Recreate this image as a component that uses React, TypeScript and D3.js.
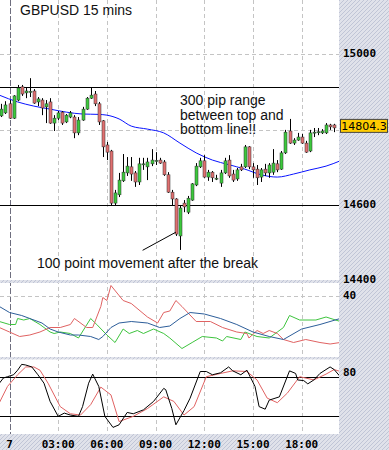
import React from "react";
import * as d3 from "d3";

// 15 min GBPUSD bars, first bar is 23:30 (index -2), bar 0 = 00:00 on the 7th
const firstBar = -2;
const opens = [
  14836, 14844, 14868, 14830, 14878, 14913, 14897, 14899, 14902, 14873,
  14878, 14860, 14873, 14817, 14830, 14846, 14820, 14833, 14833, 14791,
  14825, 14854, 14883, 14894, 14868, 14823, 14759, 14743, 14605, 14627,
  14664, 14685, 14701, 14685, 14661, 14707, 14701, 14709, 14717, 14719,
  14714, 14680, 14634, 14616, 14518, 14605, 14581, 14613, 14653, 14701,
  14717, 14674, 14687, 14670, 14658, 14685, 14719, 14682, 14669, 14701,
  14701, 14754, 14701, 14695, 14674, 14695, 14685, 14687, 14709, 14695,
  14738, 14796, 14764, 14772, 14780, 14764, 14743, 14792, 14792, 14791,
  14791, 14812, 14812,
];
const highs = [
  14868, 14875, 14878, 14891, 14918, 14918, 14910, 14936, 14907, 14886,
  14883, 14878, 14883, 14838, 14849, 14849, 14841, 14849, 14838, 14833,
  14860, 14886, 14910, 14902, 14873, 14825, 14767, 14746, 14640, 14685,
  14735, 14727, 14727, 14690, 14725, 14725, 14725, 14748, 14740, 14725,
  14719, 14687, 14640, 14618, 14600, 14613, 14624, 14658, 14711, 14725,
  14732, 14693, 14690, 14680, 14693, 14725, 14732, 14693, 14698, 14709,
  14759, 14756, 14711, 14706, 14698, 14709, 14711, 14748, 14719, 14743,
  14799, 14828, 14777, 14791, 14788, 14770, 14799, 14804, 14804, 14801,
  14817, 14815, 14815,
];
const lows = [
  14833, 14841, 14828, 14828, 14875, 14889, 14883, 14886, 14868, 14862,
  14838, 14817, 14815, 14796, 14825, 14812, 14817, 14830, 14777, 14785,
  14823, 14852, 14881, 14862, 14812, 14727, 14719, 14600, 14600, 14621,
  14661, 14677, 14664, 14648, 14653, 14693, 14666, 14703, 14706, 14709,
  14677, 14632, 14600, 14518, 14481, 14581, 14576, 14611, 14650, 14698,
  14672, 14664, 14661, 14666, 14648, 14682, 14672, 14661, 14664, 14690,
  14698, 14695, 14672, 14653, 14661, 14677, 14672, 14680, 14687, 14693,
  14735, 14762, 14759, 14770, 14762, 14738, 14740, 14780, 14785, 14788,
  14788, 14799, 14793,
];
const closes = [
  14854, 14865, 14830, 14889, 14910, 14894, 14902, 14901, 14870, 14881,
  14857, 14868, 14817, 14830, 14844, 14817, 14838, 14844, 14791, 14825,
  14854, 14883, 14891, 14868, 14820, 14754, 14740, 14605, 14632, 14666,
  14687, 14703, 14682, 14661, 14709, 14709, 14714, 14719, 14718, 14711,
  14680, 14634, 14616, 14523, 14592, 14595, 14618, 14656, 14703, 14717,
  14674, 14687, 14672, 14671, 14685, 14717, 14677, 14666, 14693, 14693,
  14754, 14701, 14693, 14672, 14693, 14685, 14706, 14711, 14693, 14738,
  14793, 14764, 14772, 14780, 14764, 14740, 14791, 14793, 14794, 14796,
  14812, 14807, 14804.3,
];

// moving average (blue)
const maBars = [-2.5, 2, 6, 10, 14, 18, 22, 24, 27, 30, 34, 38, 42, 46, 50, 54, 58, 62, 66, 70, 74, 78, 81.5];
const maVals = [14891, 14873, 14862, 14854, 14846, 14841, 14840, 14838, 14828, 14809, 14801, 14791, 14764, 14738, 14719, 14707, 14695, 14680, 14674, 14682, 14693, 14703, 14717];

const topLine = 14912;
const bottomLine = 14600;
const lastPrice = 14804.3;

// ADX / DMI panel
const adxBars = [-2.5, 0, 3, 5, 8, 10, 12, 15, 17, 20, 22, 23, 25, 27, 30, 34, 37, 39.5, 42, 44.5, 48, 52, 56, 60, 64, 67.5, 72, 76.5, 81.5];
const adxVals = [33, 29, 27, 25, 22, 18, 16, 14, 14, 13, 11, 13, 19, 22, 23, 22, 19, 20, 25, 29, 28, 25, 21, 16, 13, 11, 18, 21, 25];
const mdiBars = [-2.5, 0, 2.5, 5, 7.5, 10, 12.5, 15, 16, 19, 20.5, 22.5, 23, 24, 25, 28, 30, 34, 36.5, 38, 39.5, 41, 42.5, 46, 49.5, 52.5, 56, 58.5, 59, 61, 62.5, 64, 66, 67.5, 70, 73, 76.5, 79, 81.5];
const mdiVals = [19, 16, 13, 14, 16, 19, 19, 21, 25, 19, 19, 33, 39, 37, 47, 37, 35, 26, 22, 29, 30, 37, 33, 23, 23, 19, 16, 15, 12, 17, 15, 17, 15, 11, 9, 11, 9, 8, 9];
const pdiBars = [-2.5, 0, 1.5, 2, 3.5, 5, 7.5, 10, 11, 12.5, 15, 17, 20, 21.5, 24, 26, 28, 29.5, 31.5, 33, 35.5, 38, 39.5, 42.5, 45, 47.5, 51, 52.5, 53.5, 57, 58, 61, 64, 66, 67.5, 69, 71.5, 75.5, 78, 81.5];
const pdiVals = [23, 21, 21, 25, 24, 25, 21, 16, 15, 16, 15, 12, 25, 21, 14, 9, 18, 15, 17, 15, 18, 15, 12, 5, 9, 13, 12, 10, 13, 11, 16, 13, 12, 16, 19, 27, 24, 24, 26, 23];

// stochastic panel
const kBars = [-2.5, -1.5, -0.5, 1, 2, 3, 4, 5.5, 7, 8.5, 10, 12, 13.5, 15, 17, 18, 19.5, 20.5, 22, 23.5, 25.5, 27, 29, 30.5, 33, 35.5, 38, 38.5, 40, 41, 43, 44.5, 47, 48.5, 50, 52, 54, 55, 57, 58.5, 60.5, 61.5, 63, 64, 66.5, 69, 70.5, 71, 72.5, 73.5, 75, 76.5, 79, 80, 81.5];
const kVals = [70, 78, 80, 83, 90, 99, 98, 95, 83, 70, 42, 19, 24, 21, 19, 34, 70, 84, 65, 19, 2, 6, 25, 23, 29, 42, 62, 60, 31, 6, 28, 47, 88, 88, 83, 86, 95, 89, 83, 90, 65, 34, 30, 44, 49, 89, 85, 75, 74, 69, 75, 85, 95, 91, 80];
const dBars = [-2.5, -0.5, 2, 4, 6, 7.5, 9.5, 12.5, 15, 17.5, 20, 22.5, 25, 27, 30.5, 34, 38, 40.5, 43, 45.5, 48.5, 52, 55, 58.5, 61, 63.5, 66, 68.5, 71.5, 75, 78, 80, 81.5];
const dVals = [40, 65, 83, 95, 95, 90, 70, 34, 23, 21, 37, 64, 52, 11, 19, 31, 49, 42, 21, 34, 80, 85, 89, 88, 75, 47, 40, 55, 80, 75, 84, 91, 88];

const tickBars = [0, 12, 24, 36, 48, 60, 72];
const tickLabels = ["7", "03:00", "06:00", "09:00", "12:00", "15:00", "18:00"];
const priceLabels = [15000, 14600, 14400];
const priceGrid = [15000, 14800];

const GREEN = "#3cc83c";
const RED = "#e07070";
const axisFont = "'DejaVu Sans Mono', monospace";
const textFont = "'Liberation Sans', Arial, sans-serif";

export default function App() {
  const W = 389;
  const H = 450;
  const plotR = 339;

  const x = d3.scaleLinear().domain([0, 72]).range([9.5, 301.7]);
  const yP = d3.scaleLinear().domain([14600, 15000]).range([205, 54]);
  const yD = d3.scaleLinear().domain([0, 40]).range([356, 296]);
  const yS = d3.scaleLinear().domain([20, 80]).range([415.7, 376.7]);

  const mkLine = (bars: number[], vals: number[], ys: d3.ScaleLinear<number, number>, curve = d3.curveLinear) =>
    d3
      .line<number>()
      .x((_, i) => x(bars[i]))
      .y((v) => ys(v))
      .curve(curve)(vals) || "";

  const candles = opens.map((o, i) => {
    const bar = firstBar + i;
    const cx = Math.round(x(bar));
    const c = closes[i];
    const yo = yP(o);
    const yc = yP(c);
    const top = Math.min(yo, yc);
    const h = Math.max(1, Math.abs(yo - yc));
    const col = c > o ? GREEN : c < o ? RED : "#000";
    return (
      <g key={i}>
        <line x1={cx + 0.5} x2={cx + 0.5} y1={yP(highs[i])} y2={yP(lows[i])} stroke="#000" strokeWidth={1} />
        <rect x={cx - 1} y={top} width={3} height={h} fill={col} stroke="#333" strokeWidth={0.5} />
      </g>
    );
  });

  const boxY = yP(lastPrice) - 2;

  return (
    <svg width={W} height={H} style={{ position: "absolute", left: 0, top: 0, background: "#fff" }}>
      <defs>
        <pattern id="hatch" width="4" height="4" patternUnits="userSpaceOnUse">
          <rect width="4" height="4" fill="#e0e2ea" />
          <path d="M-1,1 l2,-2 M0,4 l4,-4 M3,5 l2,-2" stroke="#c0c5d6" strokeWidth="1" />
        </pattern>
        <clipPath id="cMain"><rect x={0} y={0} width={plotR} height={280} /></clipPath>
        <clipPath id="cDmi"><rect x={0} y={283} width={plotR} height={74} /></clipPath>
        <clipPath id="cSto"><rect x={0} y={359.5} width={plotR} height={75} /></clipPath>
      </defs>

      <rect x={0} y={0} width={W} height={H} fill="#fff" />

      {/* grid */}
      {tickBars.map((b, i) => (
        <line
          key={"vg" + i}
          x1={Math.round(x(b)) + 0.5}
          x2={Math.round(x(b)) + 0.5}
          y1={0}
          y2={434}
          stroke={i === 0 ? "#6e6e7e" : "#c4c4c4"}
          strokeDasharray={i === 0 ? "6,2" : "4,3"}
        />
      ))}
      {priceGrid.map((p) => (
        <line key={"hg" + p} x1={0} x2={plotR} y1={Math.round(yP(p)) + 0.5} y2={Math.round(yP(p)) + 0.5} stroke="#c4c4c4" strokeDasharray="4,3" />
      ))}
      <line x1={0} x2={plotR} y1={Math.round(yD(40)) + 0.5} y2={Math.round(yD(40)) + 0.5} stroke="#c4c4c4" strokeDasharray="4,3" />

      {/* main panel */}
      <g clipPath="url(#cMain)">
        <line x1={0} x2={plotR} y1={Math.round(yP(topLine)) + 0.5} y2={Math.round(yP(topLine)) + 0.5} stroke="#000" />
        <line x1={0} x2={plotR} y1={Math.round(yP(bottomLine)) + 0.5} y2={Math.round(yP(bottomLine)) + 0.5} stroke="#000" />
        <path d={mkLine(maBars, maVals, yP, d3.curveMonotoneX)} fill="none" stroke="#0a14ff" strokeWidth={1} />
        {candles}
        <line x1={x(32.8)} y1={yP(14480)} x2={x(41)} y2={yP(14528)} stroke="#000" strokeWidth={1} />
      </g>

      <text x={20} y={14.5} fontFamily={textFont} fontSize={14} fill="#111">GBPUSD 15 mins</text>
      <g fontFamily={textFont} fontSize={14} fill="#111">
        <text x={180} y={105}>300 pip range</text>
        <text x={180} y={119.5}>between top and</text>
        <text x={180} y={134}>bottom line!!</text>
        <text x={37} y={268}>100 point movement after the break</text>
      </g>

      {/* DMI panel */}
      <g clipPath="url(#cDmi)" fill="none" strokeWidth={1}>
        <path d={mkLine(pdiBars, pdiVals, yD)} stroke="#3ec43e" />
        <path d={mkLine(mdiBars, mdiVals, yD)} stroke="#e06262" />
        <path d={mkLine(adxBars, adxVals, yD)} stroke="#2d5e9a" />
      </g>

      {/* stochastic panel */}
      <g clipPath="url(#cSto)">
        <line x1={0} x2={plotR} y1={Math.round(yS(80)) + 0.5} y2={Math.round(yS(80)) + 0.5} stroke="#000" />
        <line x1={0} x2={plotR} y1={Math.round(yS(20)) + 0.5} y2={Math.round(yS(20)) + 0.5} stroke="#000" />
        <path d={mkLine(dBars, dVals, yS)} fill="none" stroke="#e06262" />
        <path d={mkLine(kBars, kVals, yS)} fill="none" stroke="#000" />
      </g>

      {/* hatched frame */}
      <rect x={0} y={280} width={plotR} height={3} fill="url(#hatch)" />
      <rect x={0} y={357} width={plotR} height={2.5} fill="url(#hatch)" />
      <rect x={0} y={434} width={W} height={H - 434} fill="url(#hatch)" />
      <rect x={plotR} y={0} width={W - plotR} height={H} fill="url(#hatch)" />

      {/* axis labels */}
      <g fontFamily={axisFont} fontSize={11} fontWeight="bold" fill="#000">
        {priceLabels.map((p) => (
          <text key={"pl" + p} x={343} y={yP(p) + 2.5}>{p}</text>
        ))}
        <text x={343} y={yD(40) + 3}>40</text>
        <text x={343} y={yS(80) - 1}>80</text>
        {tickBars.map((b, i) => (
          <text key={"xl" + i} x={x(b)} y={448} textAnchor="middle">{tickLabels[i]}</text>
        ))}
      </g>

      {/* last price box */}
      <rect x={340.5} y={boxY - 6.5} width={47} height={13} fill="#ffcc00" stroke="#444" />
      <text x={364} y={boxY + 4} textAnchor="middle" fontFamily="'DejaVu Sans', sans-serif" fontSize={11} fill="#000">
        {lastPrice}
      </text>
    </svg>
  );
}
